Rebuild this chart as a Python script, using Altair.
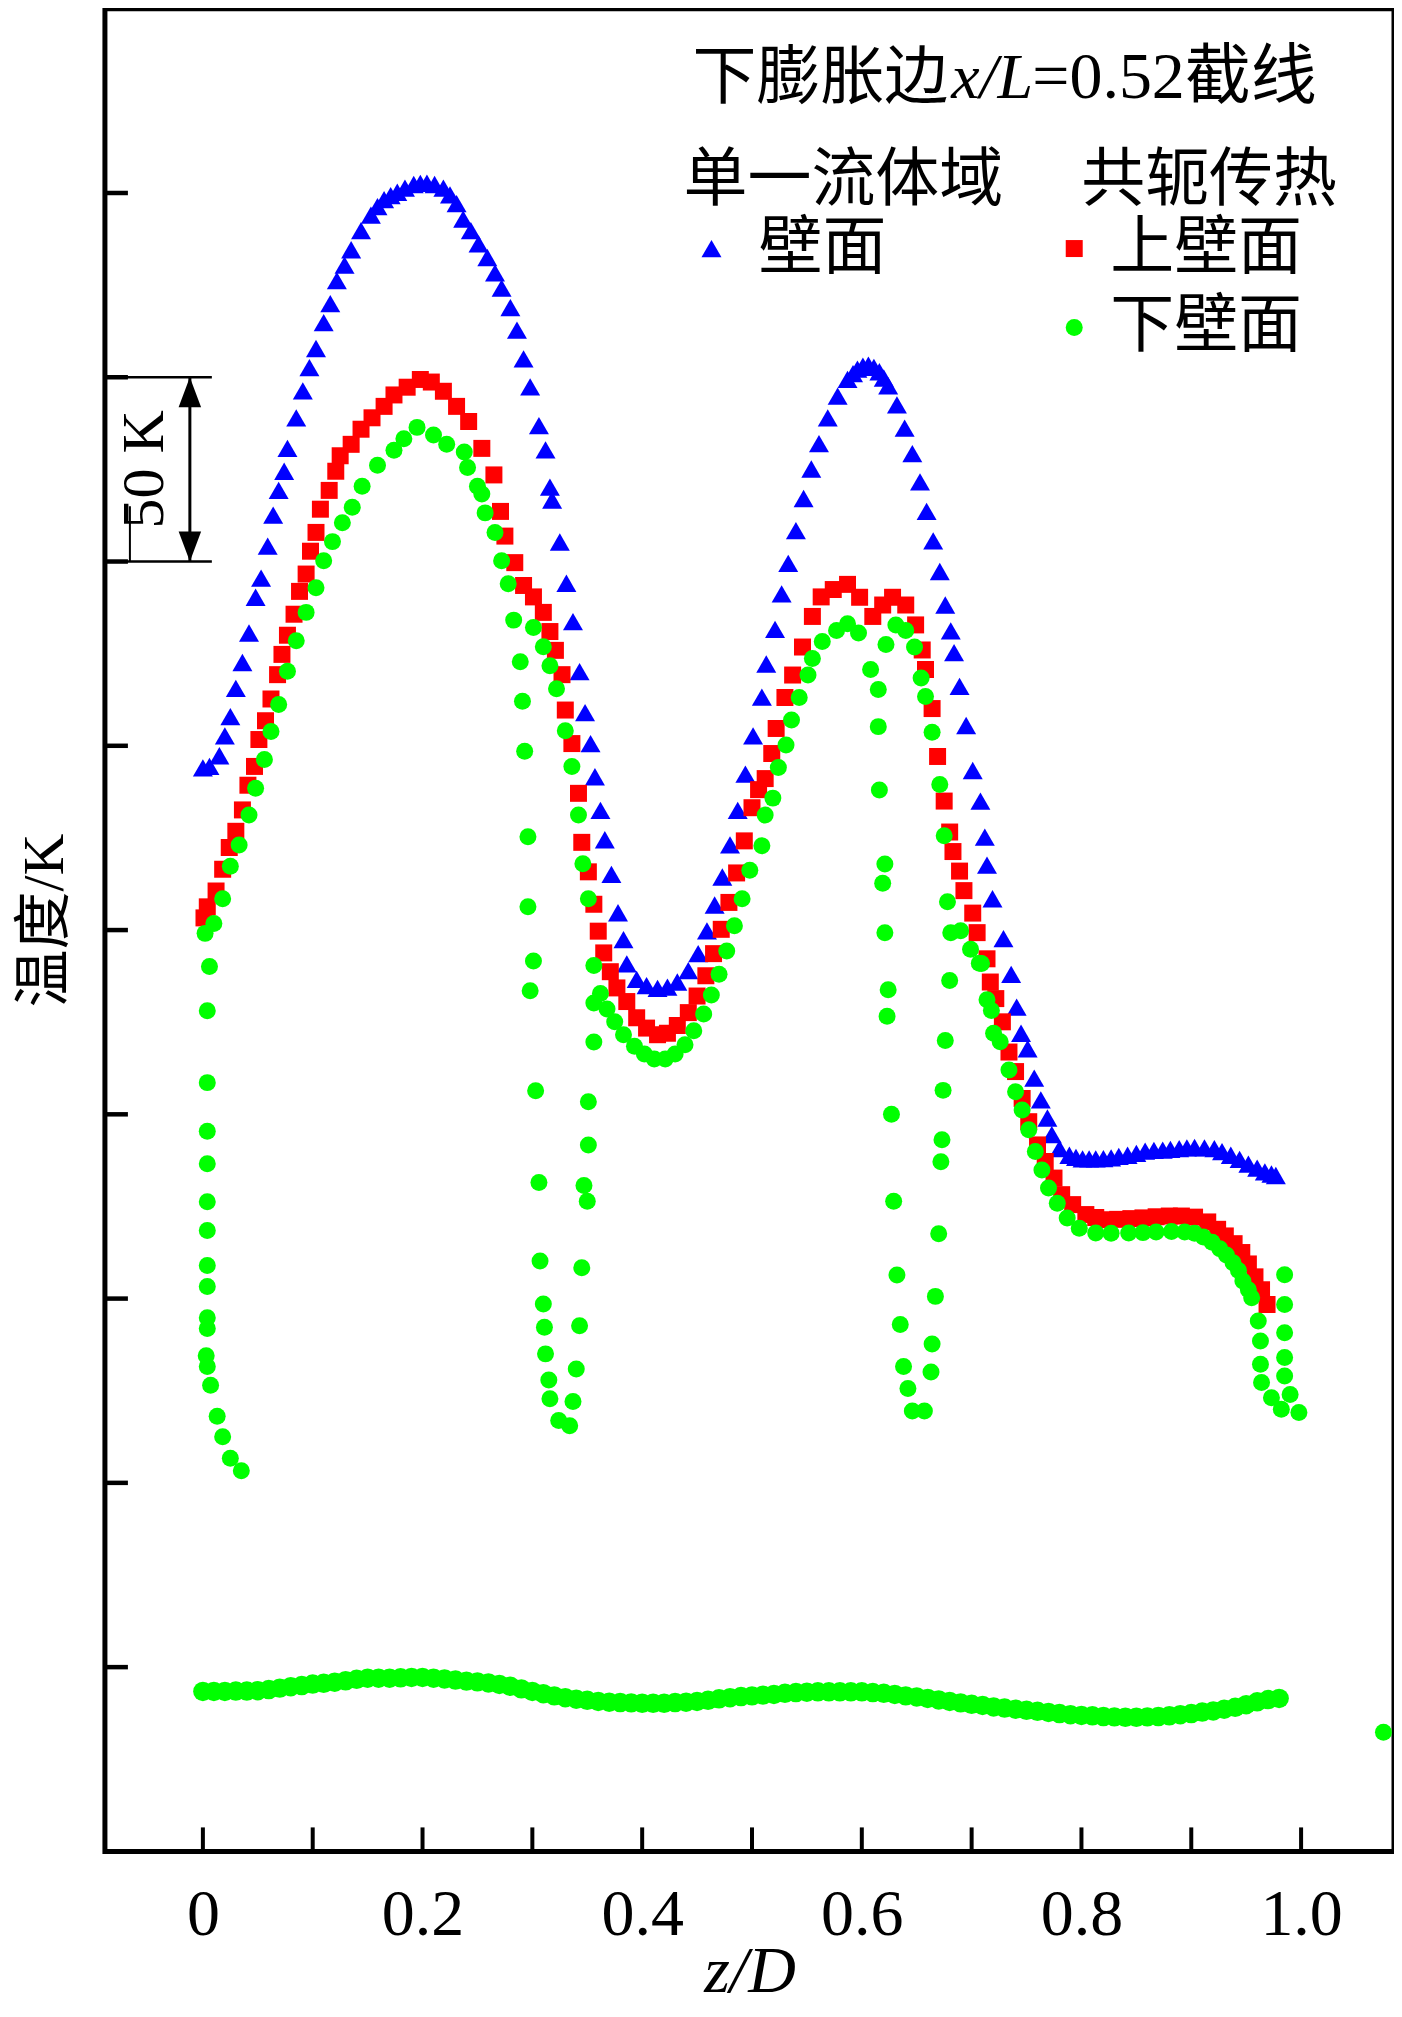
import altair as alt
import pandas as pd

# ---- data: (z/D, temperature) ----
# 单一流体域 壁面 (blue triangles)
wall_single = [
    (0.000, 294.0), (0.006, 294.4), (0.015, 297.3), (0.020, 302.7), (0.025, 307.9),
    (0.030, 315.6), (0.036, 322.6), (0.042, 330.6), (0.048, 340.3), (0.053, 345.5),
    (0.059, 354.2), (0.064, 362.6), (0.069, 369.3), (0.074, 374.5), (0.077, 380.7),
    (0.085, 389.0), (0.091, 396.3), (0.097, 402.6), (0.103, 407.8), (0.110, 414.8),
    (0.116, 420.0), (0.122, 426.2), (0.129, 430.4), (0.135, 434.6), (0.144, 439.8),
    (0.153, 444.0), (0.159, 446.3), (0.165, 448.2), (0.171, 449.3), (0.177, 450.2),
    (0.184, 451.3), (0.192, 452.3), (0.198, 452.6), (0.204, 452.7), (0.211, 452.3),
    (0.219, 451.3), (0.225, 449.5), (0.231, 447.1), (0.237, 442.9), (0.244, 439.8),
    (0.251, 436.2), (0.259, 432.5), (0.266, 428.3), (0.272, 424.2), (0.280, 418.9),
    (0.286, 412.8), (0.292, 405.0), (0.298, 397.4), (0.306, 386.9), (0.312, 380.3),
    (0.316, 370.2), (0.318, 366.7), (0.325, 355.3), (0.331, 344.1), (0.337, 333.7),
    (0.343, 320.1), (0.348, 309.0), (0.353, 300.6), (0.357, 291.6), (0.362, 282.5),
    (0.366, 274.5), (0.372, 265.1), (0.378, 254.7), (0.383, 247.4), (0.386, 240.8),
    (0.395, 236.6), (0.404, 234.9), (0.414, 234.2), (0.423, 234.5), (0.432, 235.9),
    (0.442, 239.0), (0.451, 243.6), (0.459, 249.8), (0.466, 256.8), (0.473, 264.4),
    (0.480, 273.1), (0.487, 282.5), (0.494, 292.3), (0.501, 302.7), (0.509, 313.2),
    (0.513, 322.2), (0.521, 331.6), (0.527, 341.2), (0.533, 349.5), (0.540, 358.4),
    (0.547, 367.1), (0.554, 375.1), (0.561, 382.0), (0.569, 389.0), (0.578, 394.9),
    (0.587, 399.4), (0.592, 401.0), (0.596, 402.2), (0.601, 403.0), (0.606, 403.3),
    (0.611, 402.7), (0.616, 401.5), (0.620, 399.8), (0.624, 397.7), (0.632, 392.5),
    (0.639, 386.2), (0.646, 379.3), (0.653, 371.6), (0.659, 363.6), (0.665, 355.6),
    (0.671, 347.3), (0.676, 338.2), (0.681, 331.2), (0.684, 325.3), (0.689, 316.1),
    (0.695, 305.5), (0.701, 293.3), (0.708, 285.0), (0.712, 275.2), (0.714, 267.6),
    (0.719, 258.5), (0.729, 247.7), (0.736, 238.0), (0.741, 229.1), (0.745, 222.0),
    (0.751, 217.8), (0.757, 209.8), (0.763, 203.9), (0.769, 199.0), (0.773, 194.5),
    (0.780, 190.7), (0.789, 188.9), (0.795, 188.3), (0.801, 187.9), (0.807, 187.9),
    (0.813, 187.9), (0.820, 188.0), (0.827, 188.2), (0.834, 188.6), (0.842, 188.9),
    (0.850, 189.4), (0.858, 190.0), (0.866, 190.2), (0.874, 190.3), (0.881, 190.5),
    (0.889, 190.7), (0.896, 190.9), (0.903, 191.0), (0.912, 190.9), (0.921, 190.7),
    (0.928, 189.9), (0.936, 188.9), (0.944, 187.8), (0.952, 186.5), (0.960, 185.4),
    (0.967, 184.4), (0.973, 183.8), (0.977, 183.4),
]

# 共轭传热 上壁面 (red squares)
wall_upper = [
    (0.001, 253.3), (0.004, 256.3), (0.012, 260.6), (0.018, 266.5), (0.024, 272.4),
    (0.030, 276.8), (0.036, 282.6), (0.041, 289.3), (0.047, 294.4), (0.051, 301.7),
    (0.057, 306.8), (0.062, 312.7), (0.068, 319.3), (0.072, 324.8), (0.077, 330.0),
    (0.083, 335.7), (0.088, 341.9), (0.094, 346.6), (0.098, 352.8), (0.103, 357.9),
    (0.107, 364.2), (0.115, 369.3), (0.121, 374.5), (0.125, 378.7), (0.135, 381.8),
    (0.144, 385.9), (0.154, 389.0), (0.165, 392.1), (0.174, 395.2), (0.186, 397.3),
    (0.198, 399.4), (0.208, 398.7), (0.219, 396.2), (0.231, 392.1), (0.242, 388.0),
    (0.254, 380.7), (0.265, 373.5), (0.271, 363.6), (0.275, 356.9), (0.284, 349.7),
    (0.292, 343.5), (0.301, 340.4), (0.310, 336.2), (0.316, 331.0), (0.321, 325.9),
    (0.327, 319.3), (0.330, 309.7), (0.336, 300.6), (0.342, 287.1), (0.345, 273.8),
    (0.351, 265.8), (0.356, 257.0), (0.360, 249.7), (0.365, 243.8), (0.371, 238.7),
    (0.377, 234.3), (0.386, 230.6), (0.395, 226.2), (0.404, 223.4), (0.414, 221.6),
    (0.423, 222.0), (0.432, 224.1), (0.442, 227.6), (0.450, 232.1), (0.458, 237.6),
    (0.465, 243.6), (0.472, 250.2), (0.479, 257.5), (0.486, 265.5), (0.493, 274.2),
    (0.500, 283.2), (0.506, 288.1), (0.512, 291.1), (0.518, 297.9), (0.522, 304.7),
    (0.530, 313.1), (0.537, 319.2), (0.546, 326.8), (0.555, 335.1), (0.563, 340.4),
    (0.574, 342.4), (0.587, 343.8), (0.598, 340.3), (0.610, 335.1), (0.619, 338.2),
    (0.628, 340.3), (0.640, 338.2), (0.649, 332.8), (0.655, 326.0), (0.658, 320.7),
    (0.664, 310.1), (0.669, 297.1), (0.675, 285.0), (0.680, 276.6), (0.683, 271.3),
    (0.689, 266.0), (0.693, 260.7), (0.701, 254.6), (0.705, 249.3), (0.714, 242.2),
    (0.717, 235.9), (0.722, 231.4), (0.728, 225.1), (0.734, 216.9), (0.740, 211.6),
    (0.746, 204.3), (0.752, 198.0), (0.760, 191.7), (0.767, 187.2), (0.775, 182.7),
    (0.782, 178.2), (0.792, 175.5), (0.804, 172.8), (0.813, 172.0), (0.822, 171.4),
    (0.833, 171.5), (0.845, 171.7), (0.856, 171.9), (0.868, 172.2), (0.880, 172.4),
    (0.891, 172.4), (0.903, 172.1), (0.915, 170.8), (0.924, 168.8), (0.931, 167.0),
    (0.939, 164.9), (0.946, 162.5), (0.952, 159.4), (0.958, 155.9), (0.964, 152.4),
    (0.969, 148.4),
]

# 共轭传热 下壁面 (green circles): main curve
wall_lower_main = [
    (0.002, 249.1), (0.010, 251.8), (0.018, 258.5), (0.025, 267.3), (0.033, 273.1),
    (0.042, 281.2), (0.048, 288.5), (0.056, 296.3), (0.062, 303.9), (0.069, 311.2),
    (0.077, 320.2), (0.085, 328.5), (0.094, 336.2), (0.103, 342.9), (0.110, 350.2),
    (0.118, 355.4), (0.127, 360.5), (0.136, 364.7), (0.145, 370.4), (0.159, 376.1),
    (0.174, 380.2), (0.183, 383.3), (0.195, 386.4), (0.210, 384.3), (0.222, 381.8),
    (0.238, 379.7), (0.241, 375.5), (0.250, 370.4), (0.254, 368.3), (0.257, 363.2),
    (0.266, 357.9), (0.272, 350.2), (0.278, 344.0), (0.301, 332.1), (0.310, 326.9),
    (0.316, 321.7), (0.322, 315.5), (0.330, 304.1), (0.336, 294.4), (0.342, 281.2),
    (0.346, 268.0), (0.351, 258.5), (0.362, 232.8), (0.368, 228.6), (0.375, 225.1),
    (0.383, 221.6), (0.393, 218.5), (0.402, 216.4), (0.411, 215.0), (0.421, 215.0),
    (0.430, 216.4), (0.439, 218.9), (0.447, 222.7), (0.456, 227.2), (0.463, 232.4),
    (0.470, 238.0), (0.477, 244.3), (0.484, 251.2), (0.491, 258.5), (0.498, 266.2),
    (0.509, 272.9), (0.512, 281.2), (0.519, 285.8), (0.524, 294.1), (0.531, 300.2),
    (0.536, 307.0), (0.543, 313.1), (0.551, 319.2), (0.555, 323.7), (0.564, 328.3),
    (0.577, 331.3), (0.587, 333.1), (0.597, 330.6), (0.622, 327.5), (0.631, 332.8),
    (0.640, 331.3), (0.648, 326.8), (0.654, 318.4), (0.658, 313.4), (0.664, 303.7),
    (0.671, 289.5), (0.675, 275.6), (0.678, 257.7), (0.681, 249.3), (0.690, 249.8),
    (0.699, 244.8), (0.707, 241.0), (0.709, 240.9), (0.714, 231.1), (0.718, 228.2),
    (0.720, 222.0), (0.726, 219.7), (0.734, 212.0), (0.740, 206.1), (0.746, 201.2),
    (0.752, 195.8), (0.758, 189.9), (0.764, 184.9), (0.770, 180.0), (0.778, 175.9),
    (0.787, 171.9), (0.798, 169.1), (0.813, 167.8), (0.827, 167.7), (0.843, 167.8),
    (0.856, 167.9), (0.868, 168.1), (0.882, 168.2), (0.894, 168.1), (0.903, 167.7),
    (0.911, 166.7), (0.919, 165.3), (0.926, 163.5), (0.932, 161.8), (0.938, 159.7),
    (0.943, 157.6), (0.947, 154.8), (0.952, 152.4), (0.955, 150.2),
]

# green points that drop away from the main curve
wall_lower_dips = [
    (0.006, 240.1), (0.004, 228.1), (0.004, 208.6), (0.004, 195.4), (0.004, 186.6),
    (0.004, 176.3), (0.004, 168.5), (0.004, 159.0), (0.004, 153.3), (0.004, 144.8),
    (0.004, 141.9), (0.003, 134.5), (0.004, 131.6), (0.007, 126.5), (0.013, 118.1),
    (0.018, 112.5), (0.025, 106.7), (0.035, 103.3),
    (0.283, 334.1), (0.289, 322.8), (0.291, 312.1), (0.293, 298.5), (0.296, 275.3),
    (0.296, 256.3), (0.301, 241.6), (0.298, 233.5), (0.303, 206.4), (0.306, 181.5),
    (0.307, 160.2), (0.310, 148.5), (0.311, 142.2), (0.312, 135.0), (0.315, 127.9),
    (0.316, 122.8), (0.324, 116.9), (0.334, 115.5), (0.337, 122.1), (0.340, 130.9),
    (0.343, 142.6), (0.345, 158.4), (0.347, 180.7), (0.350, 176.4), (0.351, 191.7),
    (0.351, 203.4), (0.356, 219.6), (0.356, 230.2), (0.356, 240.4),
    (0.608, 320.7), (0.615, 315.3), (0.615, 305.2), (0.616, 288.0), (0.621, 267.9),
    (0.619, 262.7), (0.621, 249.3), (0.624, 233.8), (0.623, 226.6), (0.627, 200.0),
    (0.629, 176.4), (0.632, 156.4), (0.635, 143.0), (0.638, 131.6), (0.642, 125.6),
    (0.646, 119.5), (0.657, 119.5), (0.663, 130.1), (0.664, 137.7), (0.667, 150.6),
    (0.670, 167.6), (0.672, 187.1), (0.673, 193.1), (0.674, 206.5), (0.676, 220.0),
    (0.680, 236.3),
    (0.961, 143.9), (0.963, 138.5), (0.963, 132.2), (0.964, 127.2), (0.973, 123.1),
    (0.982, 120.0), (0.998, 119.1), (0.985, 156.5), (0.985, 148.4), (0.985, 140.7),
    (0.985, 134.0), (0.985, 129.0), (0.990, 124.0),
    (1.075, 32.3),
]

# dense green band near the bottom, sampled every 0.01 in z/D
band_z = [round(0.01 * i, 2) for i in range(99)]
band_T = [
    43.4, 43.4, 43.4, 43.5, 43.5, 43.6, 43.9, 44.3, 44.7, 45.0,
    45.4, 45.6, 45.9, 46.3, 46.7, 47.0, 47.0, 47.0, 47.1, 47.2,
    47.2, 47.0, 46.8, 46.5, 46.2, 46.0, 45.7, 45.3, 44.8, 44.1,
    43.4, 42.8, 42.2, 41.7, 41.3, 41.0, 40.7, 40.5, 40.4, 40.3,
    40.2, 40.2, 40.2, 40.4, 40.5, 40.7, 41.0, 41.4, 41.7, 42.0,
    42.2, 42.4, 42.6, 42.9, 43.1, 43.2, 43.3, 43.3, 43.3, 43.3,
    43.3, 43.1, 42.9, 42.6, 42.2, 41.9, 41.5, 41.1, 40.7, 40.3,
    39.9, 39.6, 39.2, 38.9, 38.6, 38.3, 38.0, 37.7, 37.4, 37.1,
    36.9, 36.8, 36.6, 36.5, 36.4, 36.4, 36.5, 36.6, 36.8, 37.1,
    37.4, 37.8, 38.1, 38.6, 39.1, 39.8, 40.6, 41.2, 41.5,
]

x_ticks = [0.0, 0.1, 0.2, 0.3, 0.4, 0.5, 0.6, 0.7, 0.8, 0.9, 1.0]
x_labels = [0.0, 0.2, 0.4, 0.6, 0.8, 1.0]
y_ticks = [50, 100, 150, 200, 250, 300, 350, 400, 450]
scale_bar = (350, 400)  # the 50 K bar

W, H = 1290, 1844
SERIF = "Liberation Serif"
MIXED = "Liberation Serif, Noto Sans CJK SC"

single_df = pd.DataFrame(wall_single, columns=["z", "T"])
single_df["series"] = "壁面"
upper_df = pd.DataFrame(wall_upper, columns=["z", "T"])
upper_df["series"] = "上壁面"
lower_df = pd.DataFrame(wall_lower_main + wall_lower_dips, columns=["z", "T"])
lower_df["series"] = "下壁面"
conj_df = pd.concat([upper_df, lower_df], ignore_index=True)
band_df = pd.DataFrame({"z": band_z, "T": band_T})

x_enc = alt.X(
    "z:Q",
    scale=alt.Scale(domain=[-0.0892, 1.0846], nice=False, zero=False),
    axis=alt.Axis(
        values=x_labels, labelExpr="datum.value == 0 ? '0' : format(datum.value, '.1f')",
        labelFont=SERIF, labelFontSize=66, labelColor="black", labelPadding=31,
        labelFlush=False, labelOverlap=False,
        ticks=False, tickSize=0, domain=False, grid=False,
        title="z/D", titleFont=SERIF, titleFontStyle="italic", titleFontSize=66,
        titleFontWeight="normal", titleColor="black", titleY=140, titleBaseline="alphabetic",
    ),
)
y_enc = alt.Y(
    "T:Q",
    scale=alt.Scale(domain=[0, 500], nice=False, zero=False),
    axis=alt.Axis(
        labels=False, ticks=False, tickSize=0, domain=False, grid=False,
        title="温度/K", titleFont=MIXED, titleFontSize=58, titleFontWeight="normal",
        titleColor="black", titleAngle=270, titleX=-30, titleY=912, titleBaseline="bottom",
    ),
)

leg_single = alt.Legend(title="单一流体域", orient="none", legendX=579, legendY=140,
                        symbolSize=400, symbolOffset=-4, labelOffset=15)
leg_conj = alt.Legend(title="共轭传热", orient="none", legendX=977, legendY=140,
                      symbolSize=289, symbolOffset=-39, labelOffset=4)

single = alt.Chart(single_df).mark_point(filled=True, size=400, opacity=1, strokeWidth=0).encode(
    x=x_enc, y=y_enc,
    color=alt.Color("series:N", scale=alt.Scale(domain=["壁面"], range=["#0000ff"]), legend=leg_single),
    shape=alt.Shape("series:N", scale=alt.Scale(domain=["壁面"], range=["triangle-up"]), legend=leg_single),
)

conj = alt.Chart(conj_df).mark_point(filled=True, size=289, opacity=1, strokeWidth=0).encode(
    x=x_enc, y=y_enc,
    color=alt.Color("series:N", scale=alt.Scale(domain=["上壁面", "下壁面"], range=["#ff0000", "#00ff00"]),
                    legend=leg_conj),
    shape=alt.Shape("series:N", scale=alt.Scale(domain=["上壁面", "下壁面"], range=["square", "circle"]),
                    legend=leg_conj),
)

band = alt.Chart(band_df).mark_point(filled=True, size=380, opacity=1, strokeWidth=0,
                                     shape="circle", color="#00ff00").encode(x=x_enc, y=y_enc)

# inward ticks
yt = alt.Chart(pd.DataFrame({"T": y_ticks})).mark_rule(color="black", strokeWidth=4.5).encode(
    y=y_enc, x=alt.value(0), x2=alt.value(23))
xt = alt.Chart(pd.DataFrame({"z": x_ticks})).mark_rule(color="black", strokeWidth=4).encode(
    x=x_enc, y=alt.value(H - 24), y2=alt.value(H))

# 50 K scale bar
bar_lines = alt.Chart(pd.DataFrame({"T": list(scale_bar)})).mark_rule(color="black", strokeWidth=2.5).encode(
    y=y_enc, x=alt.value(0), x2=alt.value(107))
bar_shaft = alt.Chart(pd.DataFrame({"T": [scale_bar[1]], "T2": [scale_bar[0]]})).mark_rule(
    color="black", strokeWidth=3).encode(y=y_enc, y2="T2:Q", x=alt.value(85))
bar_bracket = alt.Chart(pd.DataFrame({"T": [scale_bar[0]], "T2": [scale_bar[0] + 15]})).mark_rule(
    color="black", strokeWidth=2).encode(y=y_enc, y2="T2:Q", x=alt.value(25))
head_up = alt.Chart(pd.DataFrame({"T": [scale_bar[1]]})).mark_point(
    shape="M0,0L-0.75,2L0.75,2Z", size=900, filled=True, color="black", opacity=1, strokeWidth=0).encode(
    y=y_enc, x=alt.value(85))
head_down = alt.Chart(pd.DataFrame({"T": [scale_bar[0]]})).mark_point(
    shape="M0,0L-0.75,-2L0.75,-2Z", size=900, filled=True, color="black", opacity=1, strokeWidth=0).encode(
    y=y_enc, x=alt.value(85))
bar_text = alt.Chart(pd.DataFrame({"T": [sum(scale_bar) / 2], "t": ["50 K"]})).mark_text(
    font=SERIF, fontSize=60, angle=270, align="center", baseline="middle", color="black").encode(
    y=y_enc, x=alt.value(40), text="t:N")

# heading: 下膨胀边x/L=0.52截线
head_a = alt.Chart(pd.DataFrame({"t": ["下膨胀边"]})).mark_text(
    font=MIXED, fontSize=64, align="left", baseline="alphabetic", color="black").encode(
    x=alt.value(588), y=alt.value(89), text="t:N")
head_b = alt.Chart(pd.DataFrame({"t": ["x/L"]})).mark_text(
    font=SERIF, fontSize=64, fontStyle="italic", align="left", baseline="alphabetic", color="black").encode(
    x=alt.value(847), y=alt.value(89), text="t:N")
head_c = alt.Chart(pd.DataFrame({"t": ["=0.52截线"]})).mark_text(
    font=MIXED, fontSize=66, align="left", baseline="alphabetic", color="black").encode(
    x=alt.value(928), y=alt.value(89), text="t:N")

chart = alt.layer(
    single, conj, band, yt, xt, bar_lines, bar_shaft, bar_bracket, head_up, head_down, bar_text,
    head_a, head_b, head_c,
).resolve_scale(
    color="independent", shape="independent"
).properties(
    width=W, height=H,
    autosize=alt.AutoSizeParams(type="none"),
    padding={"left": 97, "top": 0, "right": 0, "bottom": 157},
).configure_view(
    stroke="black", strokeWidth=5
).configure_legend(
    padding=0, titleFont=MIXED, titleFontSize=64, titleFontWeight="normal", titleColor="black",
    labelFont=MIXED, labelFontSize=64, labelColor="black", labelLimit=600, titleLimit=600,
    rowPadding=15, titlePadding=4, symbolStrokeWidth=0,
)

chart.save("out.html", embed_options={"renderer": "svg", "actions": False})
